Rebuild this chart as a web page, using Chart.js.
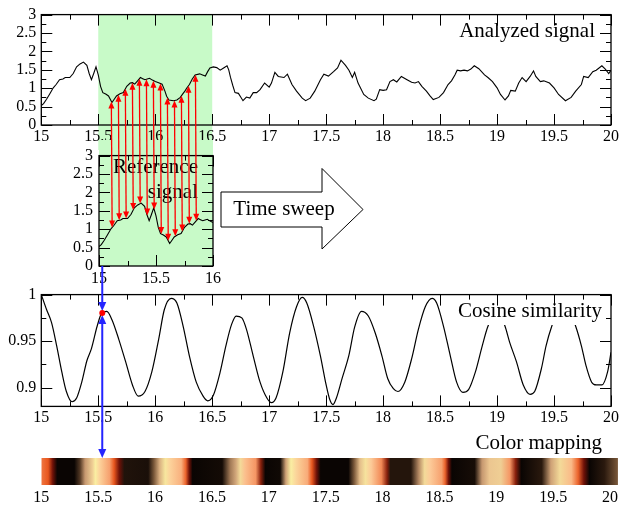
<!DOCTYPE html>
<html>
<head>
<meta charset="utf-8">
<script src="https://cdn.jsdelivr.net/npm/chart.js@4.4.1/dist/chart.umd.min.js"></script>
<style>
  html, body { margin: 0; padding: 0; background: #fff; }
  #wrap { position: relative; width: 621px; height: 506px; overflow: hidden; }
  #wrap canvas { position: absolute; }
</style>
</head>
<body>
<div id="wrap">
  <canvas id="sig" width="621" height="150" style="left:0;top:0"></canvas>
  <canvas id="ref" width="175" height="150" style="left:55px;top:140px"></canvas>
  <canvas id="cos" width="621" height="150" style="left:0;top:280px"></canvas>
  <canvas id="map" width="621" height="56" style="left:0;top:450px"></canvas>
  <canvas id="over" width="621" height="506" style="left:0;top:0"></canvas>
</div>
<script>
// analyzed signal (time, amplitude)
const sigT = [15.00, 15.02, 15.046, 15.075, 15.105, 15.13, 15.16, 15.19, 15.21, 15.25, 15.28, 15.31, 15.34, 15.37, 15.40, 15.42, 15.44, 15.46, 15.48, 15.50,
  15.52, 15.54, 15.565, 15.59, 15.62, 15.64, 15.66, 15.69, 15.72, 15.75, 15.78, 15.80, 15.82, 15.845, 15.87, 15.89, 15.91, 15.93, 15.95, 15.975,
  16.00, 16.03, 16.06, 16.085, 16.10, 16.12, 16.16, 16.19, 16.22, 16.24, 16.26, 16.28, 16.30, 16.325, 16.35, 16.39, 16.415, 16.44, 16.46, 16.48,
  16.51, 16.54, 16.57, 16.60, 16.63, 16.645, 16.66, 16.68, 16.70, 16.73, 16.75, 16.77, 16.80, 16.83, 16.86, 16.89, 16.92, 16.96, 17.00, 17.02,
  17.05, 17.08, 17.13, 17.16, 17.20, 17.24, 17.29, 17.32, 17.36, 17.40, 17.45, 17.48, 17.52, 17.565, 17.60, 17.63, 17.67, 17.70, 17.73, 17.75,
  17.78, 17.83, 17.87, 17.92, 17.94, 17.97, 18.00, 18.03, 18.06, 18.09, 18.12, 18.16, 18.21, 18.25, 18.28, 18.31, 18.34, 18.38, 18.41, 18.44,
  18.49, 18.53, 18.57, 18.60, 18.63, 18.65, 18.68, 18.71, 18.74, 18.77, 18.80, 18.84, 18.89, 18.92, 18.96, 19.00, 19.03, 19.07, 19.10, 19.12,
  19.16, 19.19, 19.22, 19.255, 19.29, 19.32, 19.34, 19.38, 19.41, 19.46, 19.50, 19.54, 19.60, 19.65, 19.69, 19.74, 19.76, 19.80, 19.84, 19.87,
  19.92, 19.95, 19.98, 20.00];
const sigV = [0.53, 0.58, 0.70, 0.85, 1.01, 1.10, 1.23, 1.25, 1.29, 1.29, 1.40, 1.58, 1.66, 1.71, 1.62, 1.40, 1.23, 1.40, 1.58, 1.36,
  1.05, 0.88, 0.84, 0.79, 0.61, 0.70, 0.79, 0.85, 0.88, 1.05, 1.14, 1.15, 1.11, 1.20, 1.29, 1.26, 1.23, 1.25, 1.27, 1.22,
  1.18, 1.15, 1.11, 0.92, 0.78, 0.68, 0.66, 0.68, 0.75, 0.84, 0.92, 1.02, 1.10, 1.25, 1.36, 1.39, 1.36, 1.33, 1.45, 1.55,
  1.58, 1.56, 1.49, 1.55, 1.61, 1.50, 1.30, 1.08, 0.88, 0.86, 0.76, 0.66, 0.76, 0.73, 0.88, 0.88, 0.96, 1.14, 1.03, 1.14,
  1.43, 1.32, 1.29, 1.38, 1.10, 0.92, 0.73, 0.66, 0.73, 0.92, 1.23, 1.38, 1.33, 1.45, 1.55, 1.76, 1.62, 1.49, 1.29, 1.43,
  1.14, 0.83, 0.73, 0.66, 0.70, 0.96, 0.94, 0.96, 1.18, 1.23, 1.17, 1.32, 1.23, 1.16, 1.14, 1.18, 1.05, 0.92, 0.80, 0.69,
  0.75, 0.88, 1.10, 1.20, 1.36, 1.49, 1.47, 1.49, 1.47, 1.52, 1.61, 1.53, 1.36, 1.29, 1.18, 1.01, 0.83, 0.68, 0.79, 0.94,
  0.92, 1.14, 1.29, 1.18, 1.32, 1.47, 1.32, 1.18, 1.20, 1.14, 1.01, 0.83, 0.66, 0.75, 0.92, 1.10, 1.32, 1.29, 1.45, 1.49,
  1.61, 1.52, 1.40, 1.49];

// cosine similarity between reference window and analyzed signal
const cosT = [15.00, 15.046, 15.09, 15.135, 15.18, 15.22, 15.27, 15.31, 15.355, 15.40, 15.44, 15.49, 15.53, 15.575, 15.62, 15.68, 15.74, 15.80, 15.85, 15.91,
  15.97, 16.03, 16.08, 16.14, 16.19, 16.245, 16.30, 16.36, 16.42, 16.46, 16.51, 16.57, 16.62, 16.67, 16.71, 16.76, 16.80, 16.86, 16.92, 16.98,
  17.02, 17.06, 17.12, 17.18, 17.24, 17.29, 17.33, 17.39, 17.45, 17.50, 17.53, 17.56, 17.59, 17.64, 17.70, 17.75, 17.81, 17.87, 17.93, 17.99,
  18.04, 18.09, 18.13, 18.19, 18.25, 18.31, 18.37, 18.43, 18.47, 18.53, 18.59, 18.645, 18.70, 18.75, 18.81, 18.87, 18.92, 19.00, 19.07, 19.11,
  19.17, 19.23, 19.29, 19.33, 19.39, 19.43, 19.48, 19.585, 19.69, 19.74, 19.78, 19.83, 19.87, 19.92, 19.97, 20.00];
const cosV = [1.000, 0.984, 0.970, 0.945, 0.917, 0.896, 0.885, 0.889, 0.906, 0.929, 0.942, 0.966, 0.980, 0.982, 0.973, 0.952, 0.928, 0.903, 0.891, 0.896,
  0.917, 0.952, 0.984, 0.996, 0.991, 0.966, 0.934, 0.906, 0.891, 0.886, 0.892, 0.917, 0.945, 0.968, 0.977, 0.975, 0.963, 0.934, 0.906, 0.889,
  0.884, 0.889, 0.917, 0.959, 0.987, 0.997, 0.991, 0.966, 0.934, 0.903, 0.888, 0.882, 0.889, 0.910, 0.935, 0.965, 0.982, 0.977, 0.959, 0.934,
  0.910, 0.899, 0.896, 0.906, 0.931, 0.963, 0.987, 0.996, 0.991, 0.966, 0.934, 0.906, 0.895, 0.898, 0.917, 0.945, 0.966, 0.983, 0.966, 0.949,
  0.928, 0.903, 0.893, 0.896, 0.921, 0.945, 0.966, 0.997, 0.966, 0.945, 0.924, 0.906, 0.903, 0.903, 0.917, 0.938];

// color mapping strip: position and level on a cyclic palette
const mapX = [15.00, 15.06, 15.10, 15.14, 15.29, 15.34, 15.385, 15.45, 15.476, 15.515, 15.60, 15.64, 15.685, 15.73, 15.94, 15.99, 16.04, 16.09, 16.135, 16.23,
  16.27, 16.30, 16.33, 16.59, 16.66, 16.71, 16.75, 16.79, 16.885, 16.93, 16.97, 17.10, 17.15, 17.195, 17.24, 17.34, 17.38, 17.42, 17.456, 17.70,
  17.75, 17.80, 17.85, 17.90, 17.99, 18.04, 18.07, 18.25, 18.32, 18.37, 18.42, 18.52, 18.55, 18.58, 18.61, 18.81, 18.875, 18.94, 19.04, 19.12,
  19.17, 19.22, 19.40, 19.48, 19.56, 19.66, 19.72, 19.77, 19.82, 19.95, 20.07];
const mapLevel = [0.75, 0.80, 0.90, 0.00, 0.00, 0.15, 0.30, 0.42, 0.50, 0.58, 0.68, 0.80, 0.90, 0.07, 0.05, 0.20, 0.35, 0.48, 0.58, 0.65,
  0.78, 0.90, 0.00, 0.03, 0.25, 0.33, 0.45, 0.62, 0.70, 0.88, 0.00, 0.02, 0.32, 0.50, 0.57, 0.66, 0.80, 0.90, 0.00, 0.00,
  0.20, 0.38, 0.47, 0.60, 0.72, 0.88, 0.08, 0.08, 0.28, 0.45, 0.60, 0.68, 0.78, 0.90, 0.00, 0.04, 0.30, 0.40, 0.42, 0.70,
  0.88, 0.00, 0.10, 0.32, 0.45, 0.63, 0.78, 0.90, 0.00, 0.10, 0.20];

// axis ticks
const timeTicks = [15, 15.5, 16, 16.5, 17, 17.5, 18, 18.5, 19, 19.5, 20];
const sigTicks = [0, 0.5, 1, 1.5, 2, 2.5, 3];
const refTimeTicks = [15, 15.5, 16];
const cosTicks = [0.9, 0.95, 1];

// sweep window and comparison arrows
const sweepWindow = [15.5, 16.5];
const arrowT = [15.115, 15.177, 15.238, 15.30, 15.361, 15.423, 15.484, 15.546, 15.607, 15.669, 15.73, 15.792, 15.853];
const probeT = 15.535;

const GREEN = '#c8fac8';
const palette = [
  [0.0, [10, 5, 3]], [0.1, [42, 25, 14]], [0.2, [122, 88, 58]], [0.3, [198, 152, 112]],
  [0.4, [236, 198, 144]], [0.5, [250, 238, 162]], [0.6, [252, 202, 152]], [0.7, [245, 150, 100]],
  [0.8, [232, 86, 30]], [0.9, [112, 18, 8]], [1.0, [10, 5, 3]]
];
function shade(v) {
  for (let i = 1; i < palette.length; i++) {
    if (v <= palette[i][0]) {
      const [a, ca] = palette[i - 1], [b, cb] = palette[i];
      const f = (v - a) / (b - a);
      return 'rgb(' + ca.map((c, k) => Math.round(c + (cb[k] - c) * f)).join(',') + ')';
    }
  }
  return 'rgb(10,5,3)';
}
function interp(xs, ys, x) {
  for (let i = 1; i < xs.length; i++) {
    if (x <= xs[i]) return ys[i - 1] + (ys[i] - ys[i - 1]) * (x - xs[i - 1]) / (xs[i] - xs[i - 1]);
  }
  return ys[ys.length - 1];
}
const pts = (xs, ys) => xs.map((x, i) => ({ x: x, y: ys[i] }));

Chart.defaults.font.family = "'Liberation Serif', serif";
Chart.defaults.font.size = 16;
Chart.defaults.color = '#000';
Chart.defaults.animation = false;
Chart.defaults.responsive = false;
Chart.defaults.events = [];
Chart.defaults.plugins.legend.display = false;
Chart.defaults.plugins.tooltip.enabled = false;

// grace-style frame: box, inward ticks on all sides, labels, shaded areas
const framePlugin = {
  id: 'frame',
  beforeDraw(chart, args, o) {
    const { ctx, chartArea: a, scales } = chart;
    ctx.save();
    ctx.fillStyle = GREEN;
    if (o.fill) ctx.fillRect(a.left, 0, a.right - a.left, a.bottom);
    if (o.band) {
      const x0 = scales.x.getPixelForValue(o.band[0]), x1 = scales.x.getPixelForValue(o.band[1]);
      ctx.fillRect(x0, a.top, x1 - x0, chart.height - a.top);
    }
    ctx.restore();
  },
  afterDatasetsDraw(chart, args, o) {
    const { ctx, chartArea: a, scales } = chart;
    ctx.save();
    ctx.font = "21px 'Liberation Serif'";
    ctx.textAlign = 'right';
    ctx.textBaseline = 'middle';
    (o.labels || []).forEach(l => {
      if (l.box) {
        const w = ctx.measureText(l.text).width;
        ctx.fillStyle = '#fff';
        ctx.fillRect(l.x - w - 5, l.y - 16, w + 9, 30);
      }
      ctx.fillStyle = '#000';
      ctx.fillText(l.text, l.x, l.y);
    });
    if (o.ticks) {
      const x = scales.x, y = scales.y;
      const mids = v => v.slice(1).map((t, i) => (t + v[i]) / 2);
      const xs = x.ticks.map(t => t.value), ys = y.ticks.map(t => t.value);
      ctx.strokeStyle = '#000';
      ctx.lineWidth = 1;
      ctx.beginPath();
      const tx = (v, len) => {
        const p = Math.round(x.getPixelForValue(v)) + 0.5;
        ctx.moveTo(p, a.bottom); ctx.lineTo(p, a.bottom - len);
        ctx.moveTo(p, a.top); ctx.lineTo(p, a.top + len);
      };
      const ty = (v, len) => {
        const p = Math.round(y.getPixelForValue(v)) + 0.5;
        ctx.moveTo(a.left, p); ctx.lineTo(a.left + len, p);
        ctx.moveTo(a.right, p); ctx.lineTo(a.right - len, p);
      };
      xs.forEach(v => tx(v, 11)); mids(xs).forEach(v => tx(v, 5));
      ys.forEach(v => ty(v, 11)); mids(ys).forEach(v => ty(v, 5));
      ctx.stroke();
      ctx.lineWidth = 1.3;
      ctx.strokeRect(a.left, a.top, a.right - a.left, a.bottom - a.top);
    }
    ctx.restore();
  }
};
Chart.register(framePlugin);

function xAxis(min, max, ticks, pad, h) {
  return {
    type: 'linear', min: min, max: max,
    grid: { display: false, drawTicks: false }, border: { display: false },
    afterBuildTicks: s => { s.ticks = ticks.map(v => ({ value: v })); },
    afterFit: s => { s.height = h; },
    ticks: { padding: pad, autoSkip: false, maxRotation: 0, callback: v => String(v) }
  };
}
function yAxis(min, max, ticks, pad, w) {
  return {
    type: 'linear', min: min, max: max,
    grid: { display: false, drawTicks: false }, border: { display: false },
    afterBuildTicks: s => { s.ticks = ticks.map(v => ({ value: v })); },
    afterFit: s => { s.width = w; },
    ticks: { padding: pad, autoSkip: false, callback: v => String(v) }
  };
}
const lineSet = (data, width, mono) => ({
  data: data, borderColor: '#000', borderWidth: width, pointRadius: 0,
  cubicInterpolationMode: mono ? 'monotone' : 'default', tension: 0
});

const sigChart = new Chart(document.getElementById('sig'), {
  type: 'line',
  data: { datasets: [lineSet(pts(sigT, sigV), 1.1, false)] },
  options: {
    layout: { padding: { left: 0, right: 7.7, top: 11, bottom: 5 } },
    scales: { x: xAxis(15, 20, timeTicks, 2, 20), y: yAxis(0, 3, sigTicks, 5, 41.3) },
    plugins: { frame: { band: sweepWindow, ticks: true, labels: [{ text: 'Analyzed signal', x: 595, y: 31 }] } }
  }
});

const refChart = new Chart(document.getElementById('ref'), {
  type: 'line',
  data: { datasets: [lineSet(pts(sigT, sigV), 1.1, false)] },
  options: {
    layout: { padding: { left: 0, right: 17, top: 11.7, bottom: 4 } },
    scales: { x: xAxis(15, 16, refTimeTicks, 3, 20), y: yAxis(0, 3, sigTicks, 6, 44) },
    plugins: { frame: { fill: true, ticks: true, labels: [{ text: 'Reference', x: 143, y: 27 }, { text: 'signal', x: 143, y: 52 }] } }
  }
});

const cosChart = new Chart(document.getElementById('cos'), {
  type: 'line',
  data: { datasets: [lineSet(pts(cosT, cosV), 1.2, true)] },
  options: {
    layout: { padding: { left: 0, right: 7.7, top: 12.6, bottom: 3.6 } },
    scales: { x: xAxis(15, 20, timeTicks, 2, 20), y: yAxis(0.88, 1, cosTicks, 5, 41.3) },
    plugins: { frame: { ticks: true, labels: [{ text: 'Cosine similarity', x: 602, y: 31, box: true }] } }
  }
});

const mapChart = new Chart(document.getElementById('map'), {
  type: 'bar',
  data: {
    labels: ['map'],
    datasets: [{
      data: [[mapX[0], mapX[mapX.length - 1]]],
      borderWidth: 0, barPercentage: 1, categoryPercentage: 1, inflateAmount: 0,
      backgroundColor: ctx => {
        const c = ctx.chart, a = c.chartArea;
        if (!a) return '#000';
        const g = c.ctx.createLinearGradient(a.left, 0, a.right, 0);
        mapX.forEach((x, i) => {
          const f = (c.scales.x.getPixelForValue(x) - a.left) / (a.right - a.left);
          g.addColorStop(Math.min(1, Math.max(0, f)), shade(mapLevel[i]));
        });
        return g;
      }
    }]
  },
  options: {
    indexAxis: 'y',
    layout: { padding: { left: 41.3, right: 0, top: 8, bottom: 0 } },
    scales: { x: xAxis(15, mapX[mapX.length - 1], timeTicks, 3, 21), y: { display: false } },
    plugins: { frame: { ticks: false } }
  }
});

// overlay: sweep arrow, comparison arrows, probe
const ov = document.getElementById('over').getContext('2d');
function head(x, y, dir, len, hw, color) {
  ov.fillStyle = color;
  ov.beginPath();
  ov.moveTo(x, y);
  ov.lineTo(x - hw, y - dir * len);
  ov.lineTo(x + hw, y - dir * len);
  ov.closePath();
  ov.fill();
}

// big "Time sweep" arrow
ov.save();
ov.beginPath();
ov.moveTo(221, 192); ov.lineTo(322, 192); ov.lineTo(322, 168.5); ov.lineTo(363, 209.5);
ov.lineTo(322, 249); ov.lineTo(322, 227); ov.lineTo(221, 227); ov.closePath();
ov.fillStyle = '#fff'; ov.fill();
ov.strokeStyle = '#000'; ov.lineWidth = 1; ov.stroke();
ov.fillStyle = '#000';
ov.font = "21px 'Liberation Serif'";
ov.textAlign = 'center'; ov.textBaseline = 'middle';
ov.fillText('Time sweep', 284, 209);
ov.textAlign = 'right';
ov.fillText('Color mapping', 602, 443);
ov.restore();

// red arrows: reference sample -> analyzed sample shifted by the window start
const shift = sweepWindow[0] - refTimeTicks[0];
const refOff = [55, 140], cosOff = 280, mapOff = 450;
ov.save();
ov.strokeStyle = '#ff0000';
ov.lineWidth = 1.3;
arrowT.forEach(t => {
  const xb = refOff[0] + refChart.scales.x.getPixelForValue(t);
  const yb = refOff[1] + refChart.scales.y.getPixelForValue(interp(sigT, sigV, t));
  const xt = sigChart.scales.x.getPixelForValue(t + shift);
  const yt = sigChart.scales.y.getPixelForValue(interp(sigT, sigV, t + shift));
  ov.beginPath();
  ov.moveTo(xt, yt + 5); ov.lineTo(xb, yb - 5);
  ov.stroke();
  head(xt, yt, -1, 7, 3, '#ff0000');
  head(xb, yb, 1, 7, 3, '#ff0000');
});
ov.restore();

// blue probe arrows and red dot on the similarity curve
const bx = cosChart.scales.x.getPixelForValue(probeT);
const dotY = cosOff + cosChart.scales.y.getPixelForValue(interp(cosT, cosV, probeT));
const yTop = refOff[1] + refChart.chartArea.bottom;
const yBar = mapOff + mapChart.chartArea.top;
ov.save();
ov.strokeStyle = '#2424ff';
ov.lineWidth = 2;
ov.beginPath();
ov.moveTo(bx, yTop); ov.lineTo(bx, dotY - 8);
ov.moveTo(bx, dotY + 8); ov.lineTo(bx, yBar - 6);
ov.stroke();
head(bx, dotY - 2, 1, 9, 4, '#2424ff');
head(bx, dotY + 2, -1, 9, 4, '#2424ff');
head(bx, yBar, 1, 9, 4, '#2424ff');
ov.fillStyle = '#ff0000';
ov.beginPath(); ov.arc(bx, dotY, 3, 0, Math.PI * 2); ov.fill();
ov.restore();
</script>
</body>
</html>
